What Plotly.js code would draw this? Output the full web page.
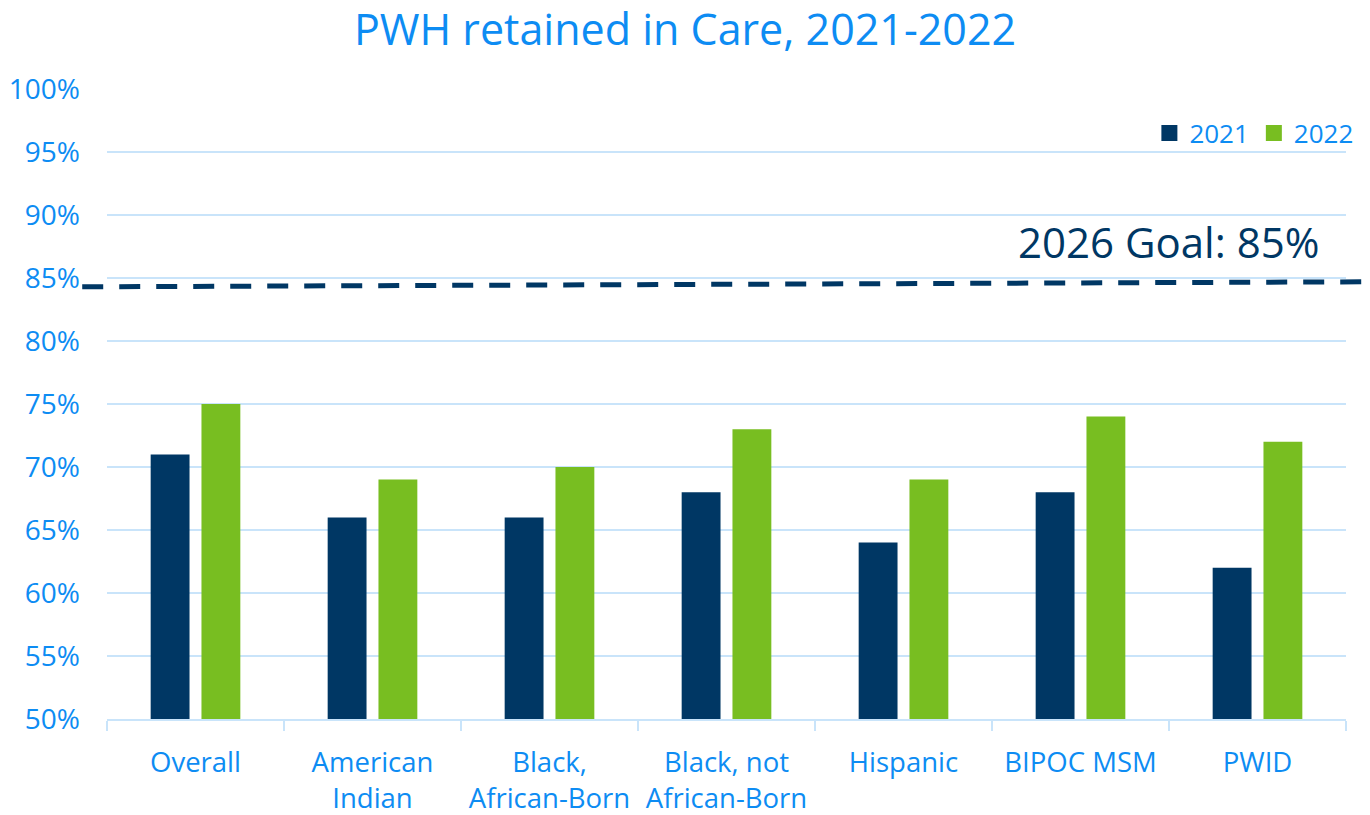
<!DOCTYPE html>
<html>
<head>
<meta charset="utf-8">
<script src="https://cdn.plot.ly/plotly-3.0.1.min.js"></script>
<style>html,body{margin:0;padding:0;background:#fff;}#chart{width:1370px;height:815px;}</style>
</head>
<body>
<div id="chart"></div>
<script>
const categories = ["Overall", "American<br>Indian", "Black,<br>African-Born", "Black, not<br>African-Born", "Hispanic", "BIPOC MSM", "PWID"];
const values2021 = [71, 66, 66, 68, 64, 68, 62];
const values2022 = [75, 69, 70, 73, 69, 74, 72];
const seriesNames = ["2021", "2022"];
const goalLabel = "2026 Goal: 85%";
const goalStart = 84.3;
const goalEnd = 84.7;

const blue = "#0D8CF3";
const navy = "#003764";
const green = "#78BE21";
const grid = "#C9E4FA";
const font = "Open Sans, Noto Sans, sans-serif";

const traces = [
  {type: "bar", name: seriesNames[0], x: categories, y: values2021, marker: {color: navy}, hoverinfo: "none", showlegend: false},
  {type: "bar", name: seriesNames[1], x: categories, y: values2022, marker: {color: green}, hoverinfo: "none", showlegend: false},
  {type: "scatter", mode: "markers", name: seriesNames[0], x: [null], y: [null], marker: {symbol: "square", size: 18, color: navy}, hoverinfo: "none"},
  {type: "scatter", mode: "markers", name: seriesNames[1], x: [null], y: [null], marker: {symbol: "square", size: 18, color: green}, hoverinfo: "none"}
];

const layout = {
  width: 1370, height: 815,
  paper_bgcolor: "#fff", plot_bgcolor: "#fff",
  margin: {l: 107, r: 20, t: 89, b: 96},
  title: {text: "PWH retained in Care, 2021-2022", font: {family: font, size: 43, color: blue}, x: 0.5, xref: "container", xanchor: "center", yref: "container", y: 0.963, yanchor: "middle"},
  barmode: "group", bargap: 0.426, bargroupgap: 0.235,
  showlegend: true,
  legend: {orientation: "h", x: 1.01, xanchor: "right", y: 0.93, yanchor: "middle", bgcolor: "rgba(0,0,0,0)", font: {family: font, size: 26, color: blue}, itemwidth: 30, traceorder: "normal"},
  xaxis: {
    type: "category", tickson: "boundaries", ticks: "outside", ticklen: 10, tickwidth: 2, tickcolor: grid,
    showline: true, linecolor: grid, linewidth: 2, showgrid: false,
    tickfont: {family: font, size: 27.5, color: blue}, ticklabelstandoff: 18, fixedrange: true
  },
  yaxis: {
    range: [50, 100], dtick: 5, tick0: 50, ticksuffix: "%", showgrid: true, gridcolor: grid, gridwidth: 2,
    zeroline: false, showline: false, ticks: "", tickfont: {family: font, size: 28, color: blue}, ticklabelstandoff: 26, fixedrange: true
  },
  shapes: [
    {type: "line", xref: "paper", yref: "y", x0: -0.02, x1: 1.02, y0: goalStart, y1: goalEnd, line: {color: navy, width: 5, dash: "21px,16px"}, layer: "above"}
  ],
  annotations: [
    {text: goalLabel, xref: "paper", yref: "y", x: 0.98, xanchor: "right", y: 87.9, yanchor: "middle", showarrow: false, font: {family: font, size: 42, color: navy}}
  ]
};

Plotly.newPlot("chart", traces, layout, {displayModeBar: false, staticPlot: true});
</script>
</body>
</html>
